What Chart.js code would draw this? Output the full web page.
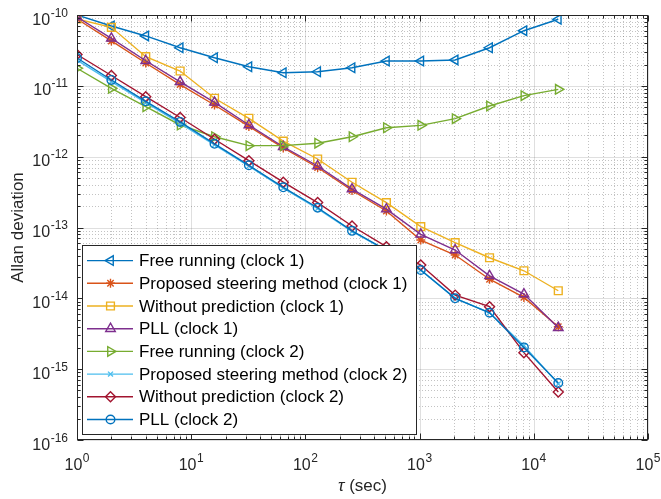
<!DOCTYPE html>
<html><head><meta charset="utf-8">
<script src="https://cdn.jsdelivr.net/npm/chart.js@4/dist/chart.umd.min.js"></script>
<style>html,body{margin:0;padding:0;background:#fff}#wrap{width:661px;height:499px;position:relative}</style>
</head><body><div id="wrap"><canvas id="c" width="661" height="499"></canvas></div>
<script>
// ---- data ----
const tau = [1,2,4,8,16,32,64,128,256,512,1024,2048,4096,8192,16384];
const freeRunning1 = [1.0e-10,7.0e-11,5.06e-11,3.45e-11,2.49e-11,1.86e-11,1.53e-11,1.58e-11,1.80e-11,2.24e-11,2.24e-11,2.32e-11,3.45e-11,6.0e-11,8.7e-11];
const proposed1    = [8.78e-11,4.30e-11,2.10e-11,1.04e-11,5.36e-12,2.67e-12,1.33e-12,7.03e-13,3.33e-13,1.71e-13,6.65e-14,4.09e-14,1.86e-14,1.03e-14,3.97e-15];
const noPredict1   = [8.78e-11,6.70e-11,2.58e-11,1.62e-11,6.67e-12,3.48e-12,1.66e-12,9.27e-13,4.35e-13,2.24e-13,1.03e-13,6.10e-14,3.74e-14,2.45e-14,1.28e-14];
const pll1         = [9.37e-11,4.69e-11,2.26e-11,1.14e-11,5.85e-12,2.80e-12,1.38e-12,7.38e-13,3.49e-13,1.82e-13,8.02e-14,4.81e-14,2.08e-14,1.15e-14,3.85e-15];
const freeRunning2 = [1.77e-11,9.23e-12,5.07e-12,2.80e-12,1.91e-12,1.43e-12,1.43e-12,1.55e-12,1.91e-12,2.56e-12,2.77e-12,3.44e-12,5.19e-12,7.26e-12,8.93e-12];
const proposed2    = [2.30e-11,1.15e-11,5.80e-12,2.95e-12,1.47e-12,7.35e-13,3.60e-13,1.85e-13,8.80e-14,4.70e-14,2.50e-14,1.00e-14,6.30e-15,2.15e-15,6.20e-16];
const noPredict2   = [2.77e-11,1.40e-11,7.03e-12,3.57e-12,1.76e-12,8.77e-13,4.36e-13,2.25e-13,1.05e-13,5.36e-14,2.95e-14,1.11e-14,7.62e-15,1.71e-15,4.75e-16];
const pll2         = [2.47e-11,1.21e-11,6.05e-12,3.09e-12,1.52e-12,7.55e-13,3.69e-13,1.90e-13,8.97e-14,4.81e-14,2.51e-14,1.00e-14,6.26e-15,2.03e-15,6.37e-16];
const seriesNames = ['Free running (clock 1)','Proposed steering method (clock 1)','Without prediction (clock 1)','PLL (clock 1)',
                     'Free running (clock 2)','Proposed steering method (clock 2)','Without prediction (clock 2)','PLL (clock 2)'];
const seriesValues = [freeRunning1, proposed1, noPredict1, pll1, freeRunning2, proposed2, noPredict2, pll2];
const xTickExponents = [0,1,2,3,4,5];
const yTickExponents = [-16,-15,-14,-13,-12,-11,-10];
const xAxisTitle = 'τ (sec)';
const yAxisTitle = 'Allan deviation';

// ---- styles ----
const colors = ['#0072BD','#D95319','#EDB120','#7E2F8E','#77AC30','#4DBEEE','#A2142F','#0072BD'];
const markers = [
  {pointStyle:'triangle', rotation:-90, radius:5.5},
  {pointStyle:'star', rotation:0, radius:4.5},
  {pointStyle:'rect', rotation:0, radius:5.5},
  {pointStyle:'triangle', rotation:0, radius:5.5},
  {pointStyle:'triangle', rotation:90, radius:5.5},
  {pointStyle:'crossRot', rotation:0, radius:3.5},
  {pointStyle:'rectRot', rotation:0, radius:5},
  {pointStyle:'circle', rotation:0, radius:4.3}
];
const FONT = '"Liberation Sans", Arial, Helvetica, sans-serif';
const AXIS_COLOR = '#262626';
const LW = 1.4;

const datasets = seriesValues.map((vals, i) => ({
  label: seriesNames[i],
  data: tau.map((t, j) => ({x: t, y: vals[j]})),
  borderColor: colors[i],
  backgroundColor: 'rgba(0,0,0,0)',
  pointBackgroundColor: 'rgba(0,0,0,0)',
  pointBorderColor: colors[i],
  borderWidth: LW,
  pointBorderWidth: LW,
  pointStyle: markers[i].pointStyle,
  pointRotation: markers[i].rotation,
  pointRadius: markers[i].radius,
  tension: 0,
  order: 8 - i
}));

function logTicks(minExp, maxExp) {
  const out = [];
  for (let e = minExp; e < maxExp; e++) for (let d = 1; d <= 9; d++) out.push({v: d * Math.pow(10, e), major: d === 1});
  out.push({v: Math.pow(10, maxExp), major: true});
  return out;
}

function drawPow(ctx, exp, x, y, align) {
  const base = '10', sup = String(exp);
  ctx.font = '16px ' + FONT;
  const wb = ctx.measureText(base).width;
  ctx.font = '12px ' + FONT;
  const ws = ctx.measureText(sup).width;
  const total = wb + ws + 0.5;
  const left = align === 'center' ? x - total / 2 : x - total;
  ctx.textAlign = 'left';
  ctx.textBaseline = 'alphabetic';
  ctx.font = '16px ' + FONT;
  ctx.fillText(base, left, y);
  ctx.font = '12px ' + FONT;
  ctx.fillText(sup, left + wb + 0.5, y - 8);
}

const gridPlugin = {
  id: 'matlabGrid',
  beforeDatasetsDraw(chart) {
    const {ctx, chartArea: a, scales: {x, y}} = chart;
    const xt = logTicks(xTickExponents[0], xTickExponents[xTickExponents.length - 1]);
    const yt = logTicks(yTickExponents[0], yTickExponents[yTickExponents.length - 1]);
    ctx.save();
    ctx.strokeStyle = 'rgba(38,38,38,0.28)';
    ctx.lineWidth = 1;
    ctx.setLineDash([1, 2]);
    xt.filter(t => !t.major).forEach(t => { const px = Math.round(x.getPixelForValue(t.v)) + 0.5; ctx.beginPath(); ctx.moveTo(px, a.top); ctx.lineTo(px, a.bottom); ctx.stroke(); });
    yt.filter(t => !t.major).forEach(t => { const py = Math.round(y.getPixelForValue(t.v)) + 0.5; ctx.beginPath(); ctx.moveTo(a.left, py); ctx.lineTo(a.right, py); ctx.stroke(); });
    ctx.setLineDash([]);
    ctx.strokeStyle = 'rgba(38,38,38,0.15)';
    xt.filter(t => t.major).forEach(t => { const px = Math.round(x.getPixelForValue(t.v)) + 0.5; ctx.beginPath(); ctx.moveTo(px, a.top); ctx.lineTo(px, a.bottom); ctx.stroke(); });
    yt.filter(t => t.major).forEach(t => { const py = Math.round(y.getPixelForValue(t.v)) + 0.5; ctx.beginPath(); ctx.moveTo(a.left, py); ctx.lineTo(a.right, py); ctx.stroke(); });
    ctx.restore();
  },
  afterDatasetsDraw(chart) {
    const {ctx, chartArea: a, scales: {x, y}} = chart;
    const xt = logTicks(xTickExponents[0], xTickExponents[xTickExponents.length - 1]);
    const yt = logTicks(yTickExponents[0], yTickExponents[yTickExponents.length - 1]);
    ctx.save();
    ctx.strokeStyle = AXIS_COLOR;
    ctx.lineWidth = 1;
    const L = Math.round(a.left) + 0.5, R = Math.round(a.right) - 0.5, T = Math.round(a.top) + 0.5, B = Math.round(a.bottom) - 0.5;
    ctx.strokeRect(L, T, R - L, B - T);
    ctx.beginPath();
    xt.forEach(t => {
      const px = Math.round(x.getPixelForValue(t.v)) + 0.5, len = t.major ? 6 : 3;
      ctx.moveTo(px, B); ctx.lineTo(px, B - len);
      ctx.moveTo(px, T); ctx.lineTo(px, T + len);
    });
    yt.forEach(t => {
      const py = Math.round(y.getPixelForValue(t.v)) + 0.5, len = t.major ? 6 : 3;
      ctx.moveTo(L, py); ctx.lineTo(L + len, py);
      ctx.moveTo(R, py); ctx.lineTo(R - len, py);
    });
    ctx.stroke();
    ctx.fillStyle = AXIS_COLOR;
    xTickExponents.forEach(e => drawPow(ctx, e, x.getPixelForValue(Math.pow(10, e)), a.bottom + 29.5, 'center'));
    yTickExponents.forEach(e => drawPow(ctx, e, a.left - 9, y.getPixelForValue(Math.pow(10, e)) + 9.5, 'right'));
    // axis titles
    ctx.textBaseline = 'middle';
    const cx = (a.left + a.right) / 2;
    ctx.font = 'italic 17px ' + FONT;
    const w1 = ctx.measureText(xAxisTitle[0]).width;
    ctx.font = '17px ' + FONT;
    const rest = xAxisTitle.slice(1);
    const w2 = ctx.measureText(rest).width;
    ctx.textAlign = 'left';
    ctx.font = 'italic 17px ' + FONT;
    ctx.fillText(xAxisTitle[0], cx - (w1 + w2) / 2, 486);
    ctx.font = '17px ' + FONT;
    ctx.fillText(rest, cx - (w1 + w2) / 2 + w1, 486);
    ctx.save();
    ctx.translate(18, (a.top + a.bottom) / 2);
    ctx.rotate(-Math.PI / 2);
    ctx.textAlign = 'center';
    ctx.fillText(yAxisTitle, 0, 0);
    ctx.restore();
    ctx.restore();
  },
  afterDraw(chart) {
    const {ctx} = chart;
    const bx = 82, by = 245, bw = 334, bh = 189, rowH = 22.7, firstY = 260.6;
    ctx.save();
    ctx.fillStyle = '#fff';
    ctx.fillRect(bx, by, bw, bh);
    ctx.strokeStyle = AXIS_COLOR;
    ctx.lineWidth = 1;
    ctx.strokeRect(bx + 0.5, by + 0.5, bw, bh);
    chart.data.datasets.forEach((ds, i) => {
      const yy = firstY + i * rowH;
      ctx.strokeStyle = ds.borderColor;
      ctx.lineWidth = LW;
      ctx.beginPath(); ctx.moveTo(87, yy); ctx.lineTo(133, yy); ctx.stroke();
      ctx.fillStyle = 'rgba(0,0,0,0)';
      Chart.helpers.drawPoint(ctx, {pointStyle: ds.pointStyle, rotation: ds.pointRotation, radius: ds.pointRadius, borderWidth: LW}, 110.5, yy);
      ctx.fillStyle = '#000';
      ctx.font = '17px ' + FONT;
      ctx.textAlign = 'left';
      ctx.textBaseline = 'middle';
      ctx.fillText(ds.label, 139, yy + 1);
    });
    ctx.restore();
  }
};

new Chart(document.getElementById('c'), {
  type: 'line',
  data: {datasets},
  plugins: [gridPlugin],
  options: {
    responsive: false,
    animation: false,
    devicePixelRatio: 1,
    layout: {padding: {left: 0, top: 15, right: 13, bottom: 0}},
    plugins: {legend: {display: false}, tooltip: {enabled: false}},
    scales: {
      x: {type: 'logarithmic', min: 1, max: 1e5,
          ticks: {display: false}, grid: {display: false}, border: {display: false},
          afterFit(s) { s.height = 59; }},
      y: {type: 'logarithmic', min: 1e-16, max: 1e-10,
          ticks: {display: false}, grid: {display: false}, border: {display: false},
          afterFit(s) { s.width = 77; }}
    }
  }
});
</script></body></html>
